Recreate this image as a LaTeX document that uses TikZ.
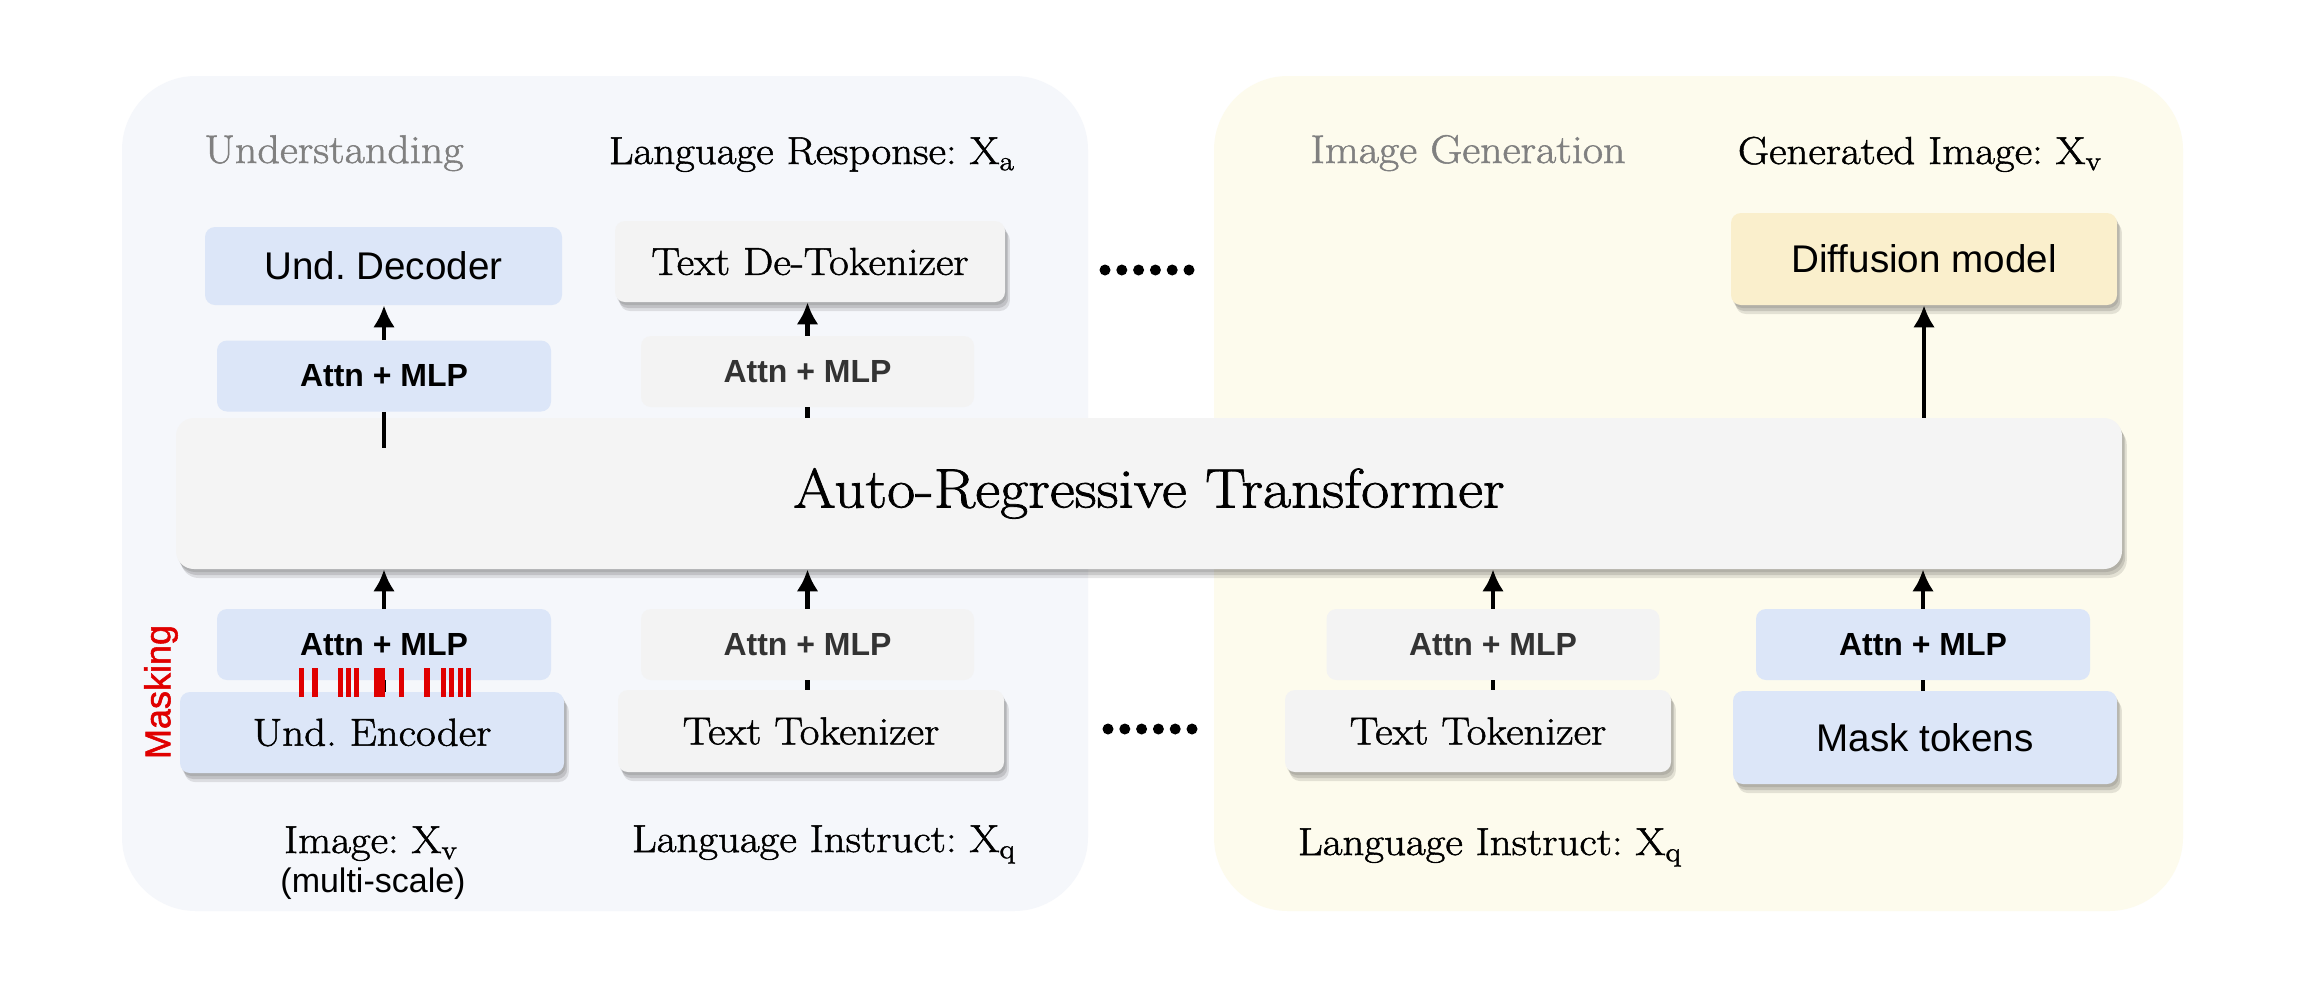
\documentclass[tikz,border=0pt]{standalone}
\usepackage{fontspec}
\setmainfont{Latin Modern Roman}[FakeStretch=1.1, RawFeature={embolden=1.3}]
\newfontfamily\sansf{Liberation Sans}
\newfontfamily\sansmed{Liberation Sans}[RawFeature={embolden=1.5}]
\usetikzlibrary{arrows.meta,shadows}
\definecolor{ublue}{HTML}{DCE6F8}
\definecolor{ugray}{HTML}{F3F3F3}
\definecolor{utrans}{HTML}{F4F4F4}
\definecolor{uyellow}{HTML}{FAEFCC}
\definecolor{panelL}{HTML}{F5F7FB}
\definecolor{panelR}{HTML}{FDFBED}
\definecolor{titlegray}{HTML}{808080}
\definecolor{maskred}{HTML}{E00000}
\definecolor{darktext}{HTML}{333333}
\newcommand{\serifL}{\fontsize{19.5}{23}\selectfont}
\newcommand{\titleF}{\fontsize{20}{24}\selectfont}
\newcommand{\sansL}{\sansf\fontsize{19.3}{23}\selectfont}
\newcommand{\attnF}{\sansf\bfseries\fontsize{16}{19}\selectfont}
\frenchspacing
\tikzset{
  softshadow/.style={
    drop shadow={shadow xshift=0.8pt, shadow yshift=-1.5pt, opacity=0.10, fill=black},
    drop shadow={shadow xshift=1.6pt, shadow yshift=-3pt, opacity=0.12, fill=black},
    drop shadow={shadow xshift=2.4pt, shadow yshift=-4.5pt, opacity=0.10, fill=black}},
  box/.style={rectangle, rounded corners=5pt, inner sep=0pt, align=center},
  bluebox/.style={box, fill=ublue},
  graybox/.style={box, fill=ugray},
  attnblue/.style={bluebox, minimum width=167pt, minimum height=35.5pt, font=\attnF, text=black},
  attngray/.style={graybox, minimum width=166.5pt, minimum height=35.5pt, font=\attnF, text=darktext},
  arr/.style={line width=2.25pt, -{Latex[length=11pt,width=11pt]}},
  stub/.style={line width=2.25pt},
  lbl/.style={anchor=base, inner sep=0pt, font=\serifL},
  ttl/.style={anchor=base, inner sep=0pt, font=\titleF, text=titlegray},
}
\begin{document}
\begin{tikzpicture}[x=0.5pt,y=-0.5pt]
\useasboundingbox (0,0) rectangle (2300,992);
\fill[white] (0,0) rectangle (2300,992);
% panels
\fill[panelL, rounded corners=37pt] (122,76) rectangle (1088,911);
\fill[panelR, rounded corners=37pt] (1214,76) rectangle (2183,911);

% titles
\node[ttl] (tUnd) at (334,163) {Understanding};
\node[lbl] (tResp) at (812,164) {Language Response: X\textsubscript{a}};
\node[ttl] (tGen) at (1468,163) {Image Generation};
\node[lbl] (tGImg) at (1920,164) {Generated Image: X\textsubscript{v}};

% top boxes
\node[bluebox, minimum width=178.5pt, minimum height=39pt, font=\sansL] (undDec) at (383.5,266) {Und. Decoder};
\node[graybox, softshadow, minimum width=195pt, minimum height=40.5pt, font=\serifL] (detok) at (810,261.5) {Text De-Tokenizer};
\node[attnblue] (attnL1) at (384,376) {Attn + MLP};
\node[attngray] (attnM1) at (807.5,371.5) {Attn + MLP};
\node[box, fill=uyellow, softshadow, minimum width=193pt, minimum height=46pt, font=\sansL] (diff) at (1924,259) {Diffusion model};

% transformer
\node[box, fill=utrans, rounded corners=9pt, softshadow, minimum width=973pt, minimum height=75.5pt, font=\fontsize{27.8}{32}\selectfont] (trans) at (1149,493.5) {Auto-Regressive Transformer};

% bottom boxes
\node[attnblue] (attnL2) at (384,644.5) {Attn + MLP};
\node[attngray] (attnM2) at (807.5,644.5) {Attn + MLP};
\node[attngray] (attnR1) at (1493,644.5) {Attn + MLP};
\node[attnblue] (attnR2) at (1923,644.5) {Attn + MLP};
\node[bluebox, softshadow, minimum width=192pt, minimum height=40.5pt, font=\serifL] (enc) at (372,732.5) {Und. Encoder};
\node[graybox, softshadow, minimum width=193pt, minimum height=41pt, font=\serifL] (tok1) at (811,731) {Text Tokenizer};
\node[graybox, softshadow, minimum width=193pt, minimum height=41pt, font=\serifL] (tok2) at (1478,731) {Text Tokenizer};
\node[bluebox, softshadow, minimum width=192pt, minimum height=46.5pt, font=\sansL] (mask) at (1925,737.5) {Mask tokens};

% bottom labels
\node[lbl] (lImg) at (371,853) {Image: X\textsubscript{v}};
\node[anchor=base, inner sep=0pt, font=\sansf\fontsize{17}{20}\selectfont] (lMS) at (373,892) {(multi-scale)};
\node[lbl] (lIns1) at (824,852) {Language Instruct: X\textsubscript{q}};
\node[lbl] (lIns2) at (1490,855) {Language Instruct: X\textsubscript{q}};
\node[rotate=90, text=maskred, inner sep=0pt, font=\sansmed\fontsize{18}{20}\selectfont] (lMask) at (161,692) {Masking};

% arrows top
\draw[arr] (attnL1.north) -- (attnL1.north |- undDec.south);
\coordinate (stubL) at (384,448);
\draw[stub] (attnL1.south) -- (stubL);
\draw[arr] (attnM1.north) -- (attnM1.north |- detok.south);
\draw[stub] (attnM1.north |- trans.north) -- (attnM1.south);
\draw[arr] (diff.south |- trans.north) -- (diff.south);

% arrows bottom
\draw[arr] (attnL2.north) -- (attnL2.north |- trans.south);
\draw[arr] (attnM2.north) -- (attnM2.north |- trans.south);
\draw[arr] (attnR1.north) -- (attnR1.north |- trans.south);
\draw[arr] (attnR2.north) -- (attnR2.north |- trans.south);
\draw[stub] (attnL2.south) -- (attnL2.south |- enc.north);
\draw[stub] (attnM2.south) -- (attnM2.south |- tok1.north);
\draw[stub] (attnR1.south) -- (attnR1.south |- tok2.north);
\draw[stub] (attnR2.south) -- (attnR2.south |- mask.north);

% masking bars
\foreach \bx in {301.5,315,340.5,348.5,356.5,376.5,382,401.5,427,443.5,451.5,460.5,468.5}
  \fill[maskred] (\bx-2.6,668) rectangle (\bx+2.6,697);

% dots
\foreach \i in {0,...,5} {
  \fill (1105+16.8*\i,270) circle[radius=2.75pt];
  \fill (1108+16.8*\i,729) circle[radius=2.75pt];
}
\end{tikzpicture}
\end{document}
